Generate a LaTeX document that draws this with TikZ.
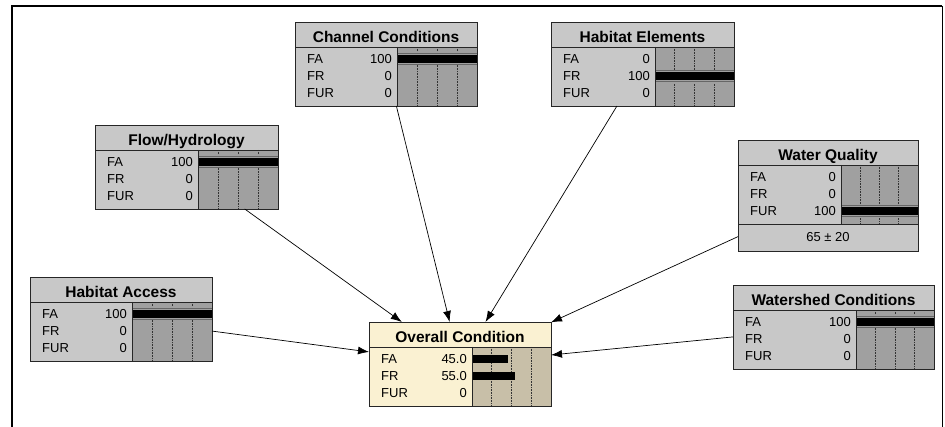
\documentclass[tikz,border=0pt]{standalone}
\usepackage{fontspec}
\setmainfont{Liberation Sans}
\usetikzlibrary{arrows.meta}

\definecolor{ndlight}{RGB}{200,200,200}
\definecolor{nddark}{RGB}{160,160,160}
\definecolor{ovlight}{RGB}{250,241,210}
\definecolor{ovdark}{RGB}{200,191,168}

\tikzset{
  bnbox/.style={inner sep=0pt, outer sep=0pt, anchor=north west},
  boxline/.style={draw=black!85, line width=0.8pt},
  titletext/.style={font=\bfseries\fontsize{15.5}{18}\selectfont, inner sep=0pt, anchor=base},
  rowtext/.style={font=\fontsize{13}{15}\selectfont, inner sep=0pt},
  tick/.style={densely dotted, line width=0.6pt, black!80},
  link/.style={-{Latex[length=11pt,width=8pt]}, line width=0.7pt}
}

\newcommand{\beliefnode}[8]{%
  \node[bnbox, minimum width=#3+#4, minimum height=#5, fill=#8light] (#1) at (#2) {};
  \begin{scope}[shift={(#1.north west)}]
    \fill[#8dark] (#3,25) rectangle (#3+#4,84);
    \foreach \k in {1,2,3}
      \draw[tick] ({#3+\k*#4/4},25) -- ({#3+\k*#4/4},84);
    \node[titletext] (#1-t) at ({(#3+#4)/2},20.5) {#6};
    \foreach \rowlab/\rowval/\rowbar [count=\i] in {#7} {
      \pgfmathsetmacro\ry{19.5+17.3*\i}
      \node[rowtext, anchor=base west] (#1-l\i) at (12,\ry+4.6) {\rowlab};
      \node[rowtext, anchor=base east] (#1-v\i) at (#3-5,\ry+4.6) {\rowval};
      \ifdim\rowbar pt>0.99pt
        \fill[#8dark] (#3,\ry-6.5) rectangle (#3+#4,\ry+6.5);
        \draw[black!60, line width=0.8pt] (#3,\ry-5.5) -- (#3+#4,\ry-5.5) (#3,\ry+5.5) -- (#3+#4,\ry+5.5);
      \fi
      \ifdim\rowbar pt>0pt
        \fill (#3,\ry-4) rectangle ({#3+\rowbar*#4},\ry+4);
      \fi
    }
    \draw[boxline] (0,25) -- (#3+#4,25) (#3,25) -- (#3,84);
    \draw[boxline] (0,0) rectangle (#3+#4,#5);
  \end{scope}
}

\begin{document}
\begin{tikzpicture}[x=1pt, y=-1pt]
  \useasboundingbox (0,0) rectangle (945,427);
  \draw[line width=2pt] (12,427) -- (12,6) -- (942,6);
  \draw[line width=1pt] (942,6) -- (942,427);

  \beliefnode{chan}{295,22}{102}{80}{84}{Channel Conditions}{FA/100/1, FR/0/0, FUR/0/0}{nd}
  \beliefnode{habel}{551,22}{104}{79}{84}{Habitat Elements}{FA/0/0, FR/100/1, FUR/0/0}{nd}
  \beliefnode{flow}{95,125}{103}{80}{84}{Flow/Hydrology}{FA/100/1, FR/0/0, FUR/0/0}{nd}
  \beliefnode{wq}{738,140}{103}{77}{111}{Water Quality}{FA/0/0, FR/0/0, FUR/100/1}{nd}
  \beliefnode{hacc}{30,277}{102}{80}{84}{Habitat Access}{FA/100/1, FR/0/0, FUR/0/0}{nd}
  \beliefnode{wshed}{733,285}{123}{78}{84}{Watershed Conditions}{FA/100/1, FR/0/0, FUR/0/0}{nd}
  \beliefnode{overall}{369,322}{103}{79}{84}{Overall Condition}{FA/45.0/0.45, FR/55.0/0.55, FUR/0/0}{ov}

  \begin{scope}[shift={(wq.north west)}]
    \draw[boxline] (0,84) -- (180,84);
    \node[rowtext] (wq-m) at (90,97.5) {65 ± 20};
  \end{scope}

  \draw[link] (chan) -- (overall);
  \draw[link] (habel) -- (overall);
  \draw[link] (flow) -- (overall);
  \draw[link] (wq) -- (overall);
  \draw[link] (hacc) -- (overall);
  \draw[link] (wshed) -- (overall);
\end{tikzpicture}
\end{document}
